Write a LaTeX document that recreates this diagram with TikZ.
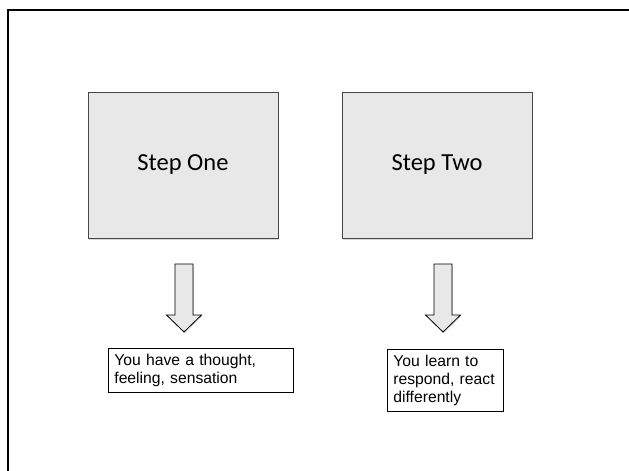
\documentclass[tikz,border=0pt]{standalone}
\usepackage{fontspec}
\setmainfont{Liberation Sans}
\newfontfamily\stepfont{Carlito}
\usepackage{tikz}
\usetikzlibrary{shadows}

\definecolor{boxgray}{RGB}{232,232,232}
\definecolor{edgegray}{RGB}{70,70,70}

\tikzset{
  stepbox/.style={draw=edgegray,fill=boxgray,line width=0.8pt,
    minimum width=190,minimum height=146,
    font=\stepfont\fontsize{24.5}{28}\selectfont,
    drop shadow={shadow xshift=0.8pt,shadow yshift=-1.5pt,opacity=0.3}},
  notebox/.style={draw=black,line width=0.8pt,anchor=north west,align=left,
    inner xsep=6pt,inner ysep=5.5pt,font=\fontsize{15.7}{18}\selectfont},
  blockarrow/.style={draw=black,fill=boxgray,line width=0.8pt,
    drop shadow={shadow xshift=0.8pt,shadow yshift=-1.2pt,opacity=0.3}}
}

\begin{document}
\begin{tikzpicture}[x=1pt,y=-1pt]
  \useasboundingbox (0,0) rectangle (629,471);
  \draw[line width=2pt] (8,471) -- (8,10) -- (629,10);
  \node[stepbox] (one) at (183,165) {Step One};
  \node[stepbox] (two) at (437,165) {Step Two};
  \foreach \x in {184,443}
    \draw[blockarrow] (\x-9,264) -- (\x+9,264) -- (\x+9,315) -- (\x+17.5,315)
      -- (\x,332) -- (\x-17.5,315) -- (\x-9,315) -- cycle;
  \node[notebox,text width=173] (noteone) at (108,348) {You have a thought,\\feeling, sensation};
  \node[notebox,text width=104] (notetwo) at (387,349) {You learn to respond, react differently};
  %\node at (310,240) {};
\end{tikzpicture}
\end{document}
